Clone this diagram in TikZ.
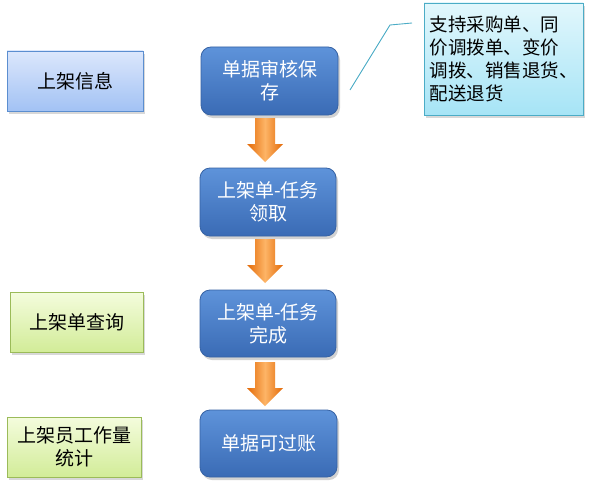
\documentclass[tikz,border=0pt]{standalone}
\usepackage{fontspec}
\setmainfont{Noto Sans CJK SC}
\usetikzlibrary{shadows,calc}
\definecolor{bluetop}{HTML}{5E93DA}
\definecolor{bluebot}{HTML}{3A6BB5}
\definecolor{blueline}{HTML}{3662A4}
\definecolor{lbtop}{HTML}{DCE7FC}
\definecolor{lbbot}{HTML}{A2C2F4}
\definecolor{lbline}{HTML}{5B8ED0}
\definecolor{gtop}{HTML}{F4FCDD}
\definecolor{gbot}{HTML}{D2EC98}
\definecolor{gline}{HTML}{9BBB59}
\definecolor{ctop}{HTML}{E2F7FC}
\definecolor{cbot}{HTML}{A6E4F6}
\definecolor{cline}{HTML}{4BACC6}
\definecolor{orEdge}{HTML}{E36A08}
\definecolor{orMid}{HTML}{FDB466}
\tikzset{
  stepbox/.style={draw=blueline, line width=0.8pt, rounded corners=10pt, top color=bluetop, bottom color=bluebot,
    text=white, font=\fontsize{19}{23}\selectfont, align=center, inner sep=0pt,
    drop shadow={opacity=0.35, shadow xshift=2pt, shadow yshift=-3pt}},
  infobox/.style={draw=lbline, line width=0.8pt, top color=lbtop, bottom color=lbbot,
    text=black, font=\fontsize{19}{23}\selectfont, align=center, inner sep=0pt,
    drop shadow={opacity=0.3, shadow xshift=2pt, shadow yshift=-3pt}},
  greenbox/.style={draw=gline, line width=0.8pt, top color=gtop, bottom color=gbot,
    text=black, font=\fontsize{19}{23}\selectfont, align=center, inner sep=0pt,
    drop shadow={opacity=0.3, shadow xshift=2pt, shadow yshift=-3pt}},
  calloutbox/.style={draw=cline, line width=0.8pt, top color=ctop, bottom color=cbot,
    text=black, font=\fontsize{18.5}{22.8}\selectfont, align=left, inner sep=0pt,
    drop shadow={opacity=0.3, shadow xshift=2pt, shadow yshift=-3pt}},
  blockarrow/.style={left color=orEdge, right color=orEdge, middle color=orMid, draw=none},
  pointer/.style={draw=cline, line width=0.9pt}
}
\newcommand{\blockdown}[1]{%
  \path[blockarrow] ($(#1)+(-10,-22)$) -- ($(#1)+(10,-22)$) -- ($(#1)+(10,4)$) -- ($(#1)+(18,4)$)
    -- ($(#1)+(0,22)$) -- ($(#1)+(-18,4)$) -- ($(#1)+(-10,4)$) -- cycle;}
\begin{document}
\begin{tikzpicture}[x=1pt,y=-1pt]
\fill[white] (0,0) rectangle (599,487);
\useasboundingbox (0,0) rectangle (599,487);

\node[infobox, minimum width=136pt, minimum height=60pt] (info) at (75,81) {上架信息};
\node[greenbox, minimum width=133pt, minimum height=60pt] (query) at (76.5,322) {上架单查询};
\node[greenbox, minimum width=134pt, minimum height=60pt] (stat) at (74,447) {上架员工作量\\统计};

\node[stepbox, minimum width=137pt, minimum height=68pt] (s1) at (269.5,81) {单据审核保\\存};
\node[stepbox, minimum width=136pt, minimum height=68pt] (s2) at (268,202) {上架单-任务\\领取};
\node[stepbox, minimum width=136pt, minimum height=67pt] (s3) at (268,323.5) {上架单-任务\\完成};
\node[stepbox, minimum width=137pt, minimum height=67pt] (s4) at (268.5,443.5) {单据可过账};

\node[calloutbox, minimum width=159pt, minimum height=112pt] (note) at (503.5,59)
  {支持采购单、同\\价调拨单、变价\\调拨、销售退货、\\配送退货};

\coordinate (a1) at (265,140);
\coordinate (a2) at (265,261);
\coordinate (a3) at (265,384);
\blockdown{a1}
\blockdown{a2}
\blockdown{a3}

\coordinate (tip) at (350,90);
\coordinate (knee) at (390,25);
\coordinate (tail) at (412,23);
\draw[pointer] (tip) -- (knee) -- (tail);
\end{tikzpicture}
\end{document}
